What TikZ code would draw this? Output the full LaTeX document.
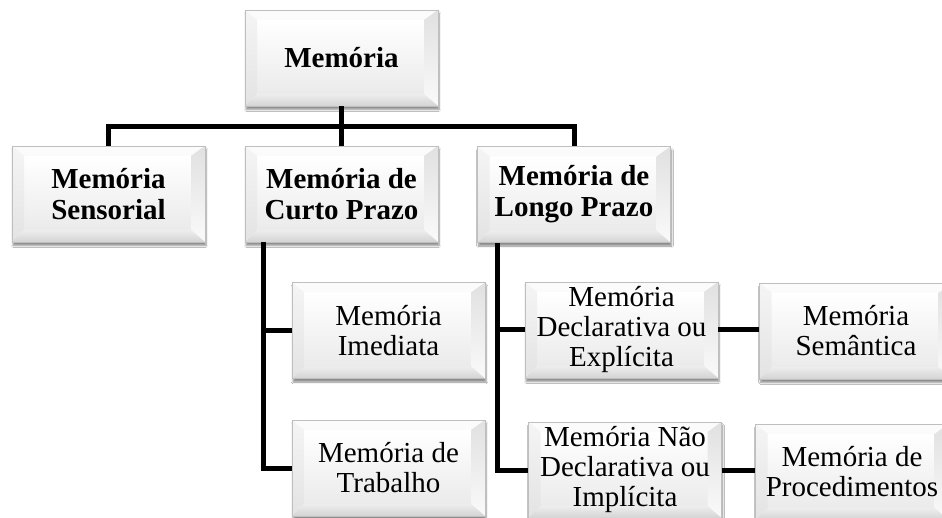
\documentclass[tikz,border=0pt]{standalone}
\usepackage{fontspec}
\setmainfont{Liberation Serif}
\usetikzlibrary{shadows.blur}

\begin{document}
\begin{tikzpicture}[x=1pt, y=-1pt,
  box/.style={rectangle, minimum width=193pt, minimum height=96pt, inner sep=0pt, align=center,
    draw=gray!50, line width=0.6pt, fill=gray!10, font=\fontsize{29}{30}\selectfont,
    blur shadow={shadow xshift=1pt, shadow yshift=-3.5pt, shadow opacity=45, shadow blur steps=6},
    path picture={
      \coordinate (bnw) at (path picture bounding box.north west);
      \coordinate (bne) at (path picture bounding box.north east);
      \coordinate (bsw) at (path picture bounding box.south west);
      \coordinate (bse) at (path picture bounding box.south east);
      \coordinate (inw) at ([shift={(12pt,-10pt)}]bnw);
      \coordinate (ine) at ([shift={(-14pt,-10pt)}]bne);
      \coordinate (isw) at ([shift={(12pt,12pt)}]bsw);
      \coordinate (ise) at ([shift={(-14pt,12pt)}]bse);
      \shade[top color=white, bottom color=gray!16] (inw) rectangle (ise);
      \fill[gray!3] (bnw) -- (bne) -- (ine) -- (inw) -- cycle;
      \shade[top color=gray!8, bottom color=gray!22] (bnw) -- (inw) -- (isw) -- (bsw) -- cycle;
      \shade[top color=gray!24, bottom color=gray!4] (bne) -- (ine) -- (ise) -- (bse) -- cycle;
      \shade[top color=gray!14, bottom color=gray!34] (bsw) -- (isw) -- (ise) -- (bse) -- cycle;
    }},
  head/.style={box, font=\fontsize{29}{31}\selectfont\bfseries},
  link/.style={line width=5pt, line join=miter}]
\fill[white] (0,0) rectangle (942,518);
\useasboundingbox (0,0) rectangle (942,518);
\clip (0,0) rectangle (942,518);

\node[head] (mem) at (341.5,58) {Memória};
\node[head] (sens) at (108.5,194) {Memória\\Sensorial};
\node[head] (curto) at (341.5,194) {Memória de\\Curto Prazo};
\node[head] (longo) at (574,194.5) {Memória de\\Longo Prazo};
\node[box] (imed) at (388.5,330.5) {Memória\\Imediata};
\node[box] (trab) at (388.5,468) {Memória de\\Trabalho};
\node[box] (decl) at (621.5,330) {Memória\\Declarativa ou\\Explícita};
\node[box] (nao) at (625,470) {Memória Não\\Declarativa ou\\Implícita};
\node[box] (sem) at (856,331) {Memória\\Semântica};
\node[box] (proc) at (852,472) {Memória de\\Procedimentos};

\coordinate (bar) at (341.5,127);
\draw[link] (sens.north) -- (sens.north |- bar) -- (longo.north |- bar) -- (longo.north);
\draw[link] (mem.south) -- (mem.south |- bar);
\draw[link] (curto.north) -- (curto.north |- bar);
\coordinate (cspine) at (263,0);
\draw[link] (cspine |- curto.south) |- (trab.west);
\draw[link] (cspine |- imed.west) -- (imed.west);
\coordinate (lspine) at (497,0);
\draw[link] (lspine |- longo.south) |- (nao.west);
\draw[link] (lspine |- decl.west) -- (decl.west);
\draw[link] (decl.east) -- (decl.east -| sem.west);
\draw[link] (nao.east) -- (nao.east -| proc.west);
\end{tikzpicture}
\end{document}
